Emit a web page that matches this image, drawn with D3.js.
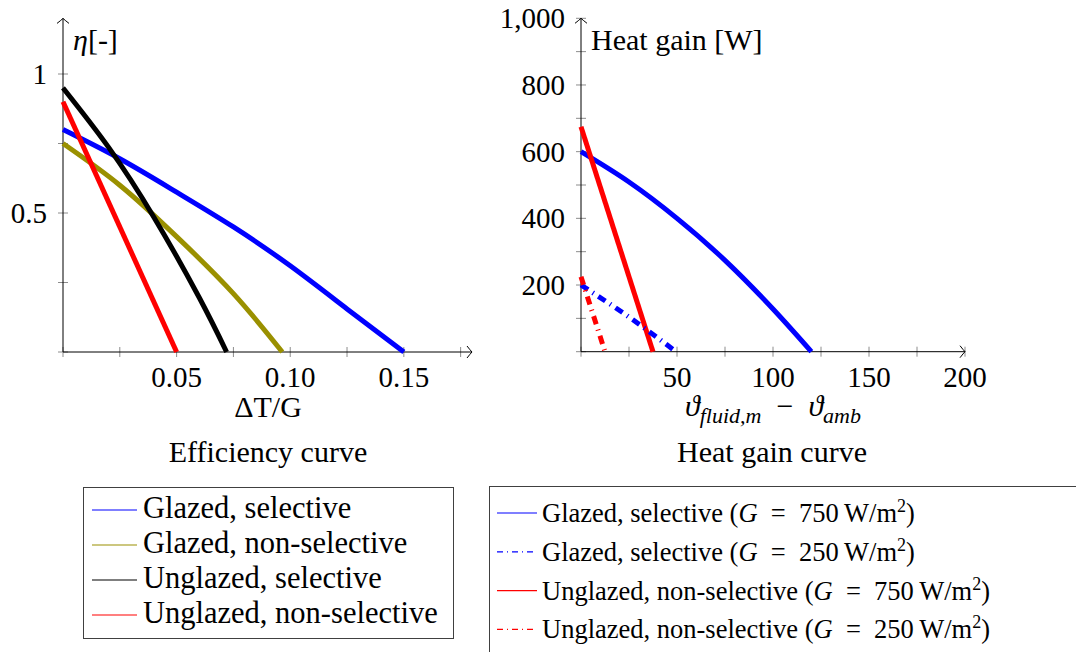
<!DOCTYPE html>
<html>
<head>
<meta charset="utf-8">
<script src="https://cdn.jsdelivr.net/npm/d3@7"></script>
<style>
  body { margin: 0; background: #fff; }
</style>
</head>
<body>
<svg id="chart" width="1076" height="652"></svg>
<script>
// efficiency curves, eta over dT/G
let glazedSelX = [0, 0.025, 0.05, 0.075, 0.10, 0.125, 0.15]
let glazedSelEta = [0.80, 0.695, 0.575, 0.45, 0.31, 0.155, 0]
let glazedNonX = [0, 0.025, 0.05, 0.075, 0.0965]
let glazedNonEta = [0.75, 0.60, 0.415, 0.21, 0]
let unglazedSelX = [0, 0.02, 0.04, 0.06, 0.072]
let unglazedSelEta = [0.95, 0.737, 0.485, 0.195, 0]
let unglazedNonX = [0, 0.05]
let unglazedNonEta = [0.90, 0]

// heat gain curves, W over temperature difference
let blue750T = [0, 25, 50, 75, 100, 120]
let blue750Q = [600, 509, 400, 274, 128, 0]
let blue250T = [0, 25, 49.5]
let blue250Q = [200, 104, 0]
let red750T = [0, 37.5]
let red750Q = [675, 0]
let red250T = [0, 12.5]
let red250Q = [225, 0]

let effTicksX = [0, 0.025, 0.05, 0.075, 0.10, 0.125, 0.15, 0.175]
let effLabelsX = [0.05, 0.10, 0.15]
let effTicksY = [0, 0.25, 0.5, 0.75, 1]
let effLabelsY = [0.5, 1]
let heatTicksX = [0, 25, 50, 75, 100, 125, 150, 175, 200]
let heatLabelsX = [50, 100, 150, 200]
let heatTicksY = [0, 100, 200, 300, 400, 500, 600, 700, 800, 900, 1000]
let heatLabelsY = [200, 400, 600, 800, 1000]

let effLegend = ["Glazed, selective", "Glazed, non-selective", "Unglazed, selective", "Unglazed, non-selective"]
let heatLegend = [
    ["Glazed, selective", "750"],
    ["Glazed, selective", "250"],
    ["Unglazed, non-selective", "750"],
    ["Unglazed, non-selective", "250"]
]

let OLIVE = "#9a9000"
let DASHDOT = "8.5,5.5,1.2,5.5"

let svg = d3.select("#chart")
svg.append("rect").attr("width", 1076).attr("height", 652).attr("fill", "#fff")

function zip(xs, ys) {
    return xs.map((x, i) => [x, ys[i]])
}

function arrowHead(g, x, y, dir) {
    // open pgf style "to" arrow
    let p
    if (dir === "right") {
        p = `M${x - 5},${y - 6} Q${x - 1.5},${y - 1.5} ${x},${y} Q${x - 1.5},${y + 1.5} ${x - 5},${y + 6}`
    } else {
        p = `M${x - 6},${y + 5} Q${x - 1.5},${y + 1.5} ${x},${y} Q${x + 1.5},${y + 1.5} ${x + 6},${y + 5}`
    }
    g.append("path").attr("d", p).attr("fill", "none").attr("stroke", "#000").attr("stroke-width", 1)
}

function drawAxes(xScale, yScale, xTicks, yTicks, xLabels, yLabels, xFmt, yFmt) {
    let g = svg.append("g")
    let x0 = xScale(0), y0 = yScale(0)

    g.selectAll(".xt").data(xTicks).enter().append("line")
        .attr("x1", d => xScale(d)).attr("x2", d => xScale(d))
        .attr("y1", y0 - 5).attr("y2", y0 + 5)
        .attr("stroke", "#8c8c8c").attr("stroke-width", 1)
    g.selectAll(".yt").data(yTicks).enter().append("line")
        .attr("y1", d => yScale(d)).attr("y2", d => yScale(d))
        .attr("x1", x0 - 5).attr("x2", x0 + 5)
        .attr("stroke", "#8c8c8c").attr("stroke-width", 1)

    let xr = xScale.range()[1], yr = yScale.range()[1]
    g.append("line").attr("x1", x0).attr("x2", xr).attr("y1", y0).attr("y2", y0)
        .attr("stroke", "#000").attr("stroke-width", 1)
    g.append("line").attr("x1", x0).attr("x2", x0).attr("y1", y0).attr("y2", yr)
        .attr("stroke", "#000").attr("stroke-width", 1)
    arrowHead(g, xr, y0, "right")
    arrowHead(g, x0, yr, "up")

    g.selectAll(".xl").data(xLabels).enter().append("text")
        .attr("x", d => xScale(d)).attr("y", y0 + 35)
        .attr("text-anchor", "middle").attr("font-size", 29)
        .text(xFmt)
    g.selectAll(".yl").data(yLabels).enter().append("text")
        .attr("x", x0 - 16).attr("y", d => yScale(d)).attr("dy", "0.34em")
        .attr("text-anchor", "end").attr("font-size", 29)
        .text(yFmt)
    return g
}

function drawCurve(xScale, yScale, pts, color, dash) {
    let line = d3.line()
        .x(d => xScale(d[0]))
        .y(d => yScale(d[1]))
        .curve(d3.curveNatural)
    svg.append("path")
        .attr("d", line(pts))
        .attr("fill", "none")
        .attr("stroke", color)
        .attr("stroke-width", 5)
        .attr("stroke-dasharray", dash || null)
}

// ---- efficiency plot
let effX = d3.scaleLinear([0, 0.18], [63, 472])
let effY = d3.scaleLinear([0, 1.2], [352, 18.4])

drawAxes(effX, effY, effTicksX, effTicksY, effLabelsX, effLabelsY,
    d => d3.format(".2f")(d), d => d === 1 ? "1" : d3.format(".1f")(d))

drawCurve(effX, effY, zip(glazedSelX, glazedSelEta), "#0000ff")
drawCurve(effX, effY, zip(glazedNonX, glazedNonEta), OLIVE)
drawCurve(effX, effY, zip(unglazedSelX, unglazedSelEta), "#000")
drawCurve(effX, effY, zip(unglazedNonX, unglazedNonEta), "#ff0000")

let etaLab = svg.append("text").attr("x", 73).attr("y", 50).attr("font-size", 30)
etaLab.append("tspan").attr("font-style", "italic").text("η")
etaLab.append("tspan").text("[-]")

svg.append("text").attr("x", 268).attr("y", 417).attr("text-anchor", "middle")
    .attr("font-size", 30).text("ΔT/G")
svg.append("text").attr("x", 268).attr("y", 462).attr("text-anchor", "middle")
    .attr("font-size", 30).text("Efficiency curve")

// ---- heat gain plot
let heatX = d3.scaleLinear([0, 200], [581, 965])
let heatY = d3.scaleLinear([0, 1000], [351.7, 18.3])

drawAxes(heatX, heatY, heatTicksX, heatTicksY, heatLabelsX, heatLabelsY,
    d => d, d => d3.format(",")(d))

drawCurve(heatX, heatY, zip(blue750T, blue750Q), "#0000ff")
drawCurve(heatX, heatY, zip(red750T, red750Q), "#ff0000")
drawCurve(heatX, heatY, zip(blue250T, blue250Q), "#0000ff", DASHDOT)
drawCurve(heatX, heatY, zip(red250T, red250Q), "#ff0000", DASHDOT)

svg.append("text").attr("x", 591).attr("y", 50).attr("font-size", 30).text("Heat gain [W]")

let xl = svg.append("text").attr("x", 773).attr("y", 416).attr("text-anchor", "middle").attr("font-size", 30)
xl.append("tspan").attr("font-style", "italic").text("ϑ")
xl.append("tspan").attr("font-style", "italic").attr("font-size", 22).attr("dy", 7).text("fluid,m")
xl.append("tspan").attr("dy", -7).text("\u2002−\u2002")
xl.append("tspan").attr("font-style", "italic").text("ϑ")
xl.append("tspan").attr("font-style", "italic").attr("font-size", 22).attr("dy", 7).text("amb")

svg.append("text").attr("x", 772).attr("y", 462).attr("text-anchor", "middle")
    .attr("font-size", 30).text("Heat gain curve")

// ---- legends
let effColors = ["#0000ff", OLIVE, "#000", "#ff0000"]
let lg1 = svg.append("g")
lg1.append("rect").attr("x", 83.5).attr("y", 487.5).attr("width", 370).attr("height", 151)
    .attr("fill", "#fff").attr("stroke", "#404040").attr("stroke-width", 1)
effLegend.forEach((name, i) => {
    let by = 518 + i * 35
    lg1.append("line").attr("x1", 92).attr("x2", 137).attr("y1", by - 8).attr("y2", by - 8)
        .attr("stroke", effColors[i]).attr("stroke-width", 1.2)
    lg1.append("text").attr("x", 143).attr("y", by).attr("font-size", 30.5).text(name)
})

let heatColors = ["#0000ff", "#0000ff", "#ff0000", "#ff0000"]
let heatDash = [null, "6,4,1,4", null, "6,4,1,4"]
let lg2 = svg.append("g")
lg2.append("rect").attr("x", 489.5).attr("y", 486.5).attr("width", 700).attr("height", 300)
    .attr("fill", "#fff").attr("stroke", "#404040").attr("stroke-width", 1)
heatLegend.forEach((row, i) => {
    let by = 522 + i * 38.8
    lg2.append("line").attr("x1", 497).attr("x2", 537).attr("y1", by - 9).attr("y2", by - 9)
        .attr("stroke", heatColors[i]).attr("stroke-width", 1.2)
        .attr("stroke-dasharray", heatDash[i])
    let t = lg2.append("text").attr("x", 542).attr("y", by).attr("font-size", 26.5)
    t.append("tspan").text(row[0] + " (")
    t.append("tspan").attr("font-style", "italic").text("G")
    t.append("tspan").text("\u2002=\u2002" + row[1] + "\u2009W/m")
    t.append("tspan").attr("font-size", 18).attr("dy", -10).text("2")
    t.append("tspan").attr("dy", 10).text(")")
})

// set the serif face on every text node
svg.selectAll("text").attr("font-family", "Liberation Serif")
</script>
</body>
</html>
